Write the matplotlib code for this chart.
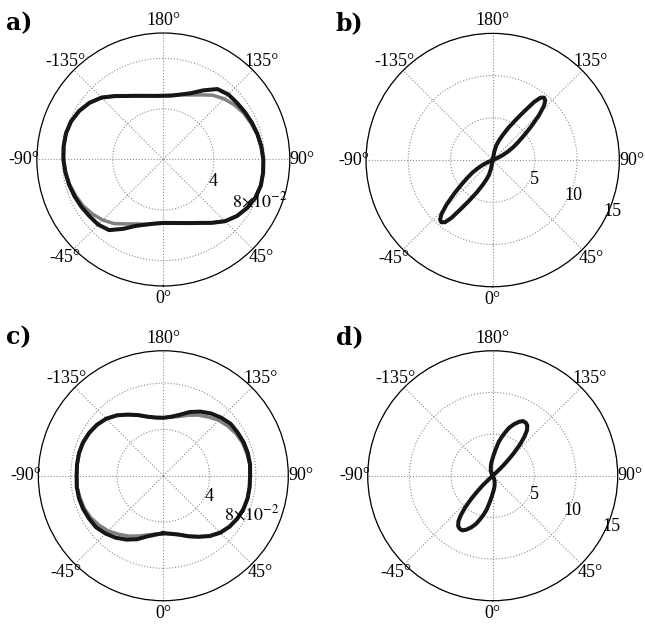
import numpy as np
import matplotlib
matplotlib.use("Agg")
import matplotlib.pyplot as plt
from matplotlib.transforms import ScaledTranslation

plt.rcParams['font.family'] = ['Liberation Serif', 'DejaVu Serif']
plt.rcParams['mathtext.fontset'] = 'stix'

# ---- angular axis ----
theta_ticks = [0, 45, 90, 135, 180, 225, 270, 315]
theta_labels = ['0°', '45°', '90°', '135°', '180°', '-135°', '-90°', '-45°']

# ---- panels a) and c): sampled every 7.5 degrees ----
angles_ac = [0, 7.5, 15, 22.5, 30, 37.5, 45, 52.5, 60, 67.5, 75, 82.5,
             90, 97.5, 105, 112.5, 120, 127.5, 135, 142.5, 150, 157.5, 165, 172.5,
             180, 187.5, 195, 202.5, 210, 217.5, 225, 232.5, 240, 247.5, 255, 262.5,
             270, 277.5, 285, 292.5, 300, 307.5, 315, 322.5, 330, 337.5, 345, 352.5]

a_black = [0.0502, 0.0506, 0.0520, 0.0544, 0.0579, 0.0631, 0.0690, 0.0734,
           0.0766, 0.0788, 0.0798, 0.0796, 0.0791, 0.0782, 0.0771, 0.0759,
           0.0746, 0.0735, 0.0727, 0.0702, 0.0631, 0.0567, 0.0532, 0.0510,
           0.0504, 0.0507, 0.0521, 0.0545, 0.0580, 0.0632, 0.0692, 0.0736,
           0.0768, 0.0789, 0.0797, 0.0795, 0.0790, 0.0781, 0.0771, 0.0760,
           0.0748, 0.0736, 0.0728, 0.0704, 0.0633, 0.0568, 0.0533, 0.0511]

a_gray = [0.0502, 0.0506, 0.0520, 0.0544, 0.0579, 0.0631, 0.0690, 0.0734,
          0.0766, 0.0788, 0.0798, 0.0796, 0.0791, 0.0780, 0.0768, 0.0750,
          0.0734, 0.0709, 0.0679, 0.0641, 0.0590, 0.0552, 0.0530, 0.0510,
          0.0504, 0.0507, 0.0521, 0.0545, 0.0580, 0.0632, 0.0692, 0.0736,
          0.0768, 0.0789, 0.0797, 0.0795, 0.0790, 0.0779, 0.0767, 0.0749,
          0.0733, 0.0707, 0.0677, 0.0639, 0.0588, 0.0551, 0.0530, 0.0511]

c_black = [0.0497, 0.0506, 0.0527, 0.0566, 0.0609, 0.0657, 0.0696, 0.0722,
           0.0739, 0.0750, 0.0754, 0.0752, 0.0750, 0.0756, 0.0756, 0.0752,
           0.0743, 0.0735, 0.0709, 0.0678, 0.0640, 0.0596, 0.0545, 0.0514,
           0.0501, 0.0507, 0.0528, 0.0567, 0.0610, 0.0658, 0.0697, 0.0723,
           0.0740, 0.0751, 0.0754, 0.0752, 0.0749, 0.0754, 0.0754, 0.0750,
           0.0741, 0.0732, 0.0706, 0.0675, 0.0637, 0.0594, 0.0543, 0.0513]

c_gray = [0.0497, 0.0506, 0.0527, 0.0566, 0.0609, 0.0657, 0.0696, 0.0722,
          0.0739, 0.0750, 0.0754, 0.0752, 0.0750, 0.0754, 0.0747, 0.0741,
          0.0726, 0.0704, 0.0677, 0.0640, 0.0605, 0.0566, 0.0530, 0.0510,
          0.0501, 0.0507, 0.0528, 0.0567, 0.0610, 0.0658, 0.0697, 0.0723,
          0.0740, 0.0751, 0.0754, 0.0752, 0.0749, 0.0752, 0.0745, 0.0739,
          0.0724, 0.0701, 0.0674, 0.0637, 0.0602, 0.0564, 0.0529, 0.0509]

# ---- panel b): two lobes ----
b_angles = [110, 113, 116, 119, 122, 125, 128, 131, 134, 136.5, 138.5, 140.5,
            142.5, 144.5, 147, 150, 154, 158, 162, 166, 169, 172,
            290, 293, 296, 299, 302, 305, 308, 311, 314, 316.5, 318.5, 320.5,
            322.5, 324.5, 327, 330, 334, 338, 342, 346, 349, 352]
b_r = [0.0, 0.55, 1.30, 2.05, 2.85, 3.65, 4.65, 6.00, 7.60, 8.80, 9.40, 9.58,
       9.30, 8.45, 6.90, 5.55, 4.25, 3.20, 2.45, 1.80, 1.05, 0.0,
       0.0, 0.55, 1.30, 2.05, 2.85, 3.65, 4.65, 6.00, 7.60, 8.80, 9.40, 9.55,
       9.28, 8.42, 6.88, 5.52, 4.22, 3.18, 2.45, 1.80, 1.05, 0.0]

# ---- panel d): two lobes ----
d_angles = [132, 133, 134, 135.5, 137, 139, 141, 143, 145.5, 148, 151, 154,
            157.5, 161, 164, 167, 170, 174, 178, 182, 186, 190, 195, 200, 205, 210,
            312, 313, 314, 315.5, 317, 319, 321, 323, 325.5, 328, 331, 334,
            337.5, 341, 344, 347, 350, 354, 358, 362, 366, 370, 375, 380, 385, 390]
d_r = [0.0, 0.72, 1.68, 2.64, 3.72, 5.04, 6.06, 6.84, 7.32, 7.50, 7.50, 7.20,
       6.70, 6.10, 5.40, 4.75, 4.10, 3.10, 2.40, 1.90, 1.56, 1.26, 0.90, 0.66, 0.36, 0.0,
       0.0, 0.72, 1.68, 2.64, 3.72, 5.04, 6.06, 6.84, 7.32, 7.50, 7.50, 7.20,
       6.70, 6.10, 5.40, 4.75, 4.10, 3.10, 2.40, 1.90, 1.56, 1.26, 0.90, 0.66, 0.36, 0.0]

rticks_ac = [0.04, 0.08]
rlabels_ac = ['4', r'$8{\times}10^{-2}$']
rticks_bd = [5, 10, 15]
rlabels_bd = ['5', '10', '15']

BLACK = '#161616'
GRAY = '#808080'

fig = plt.figure(figsize=(6.45, 6.24), dpi=100)


def closed(angles_deg, radii):
    th = np.deg2rad(np.append(angles_deg, angles_deg[0] + 360.0))
    rr = np.append(radii, radii[0])
    return th, rr


def make_polar(rect, rmax, rticks, rlabels):
    ax = fig.add_axes(rect, projection='polar')
    ax.set_theta_zero_location('S')
    ax.set_theta_direction(1)
    ax.set_xticks(np.deg2rad(theta_ticks))
    ax.set_xticklabels(theta_labels, fontsize=13)
    ax.tick_params(axis='x', pad=-1.5)
    ax.set_ylim(0, rmax)
    ax.set_yticks(rticks)
    ax.set_yticklabels([])
    ax.grid(True, linestyle=':', color='0.55', linewidth=0.8)
    ax.spines['polar'].set_linewidth(0.9)
    ax.spines['polar'].set_color('black')
    shift = ScaledTranslation(3 / 100, -3 / 100, fig.dpi_scale_trans)
    for r, lab in zip(rticks, rlabels):
        ax.text(np.deg2rad(67.5), r, lab, ha='center', va='center',
                fontsize=13, transform=ax.transData + shift, zorder=5)
    return ax


ax_a = make_polar([0.0571, 0.5417, 0.3922, 0.4054], 0.1, rticks_ac, rlabels_ac)
ax_b = make_polar([0.5674, 0.5405, 0.3929, 0.4060], 15, rticks_bd, rlabels_bd)
ax_c = make_polar([0.0594, 0.0373, 0.3876, 0.4006], 0.108, rticks_ac, rlabels_ac)
ax_d = make_polar([0.5701, 0.0373, 0.3876, 0.4006], 15, rticks_bd, rlabels_bd)

ax_a.plot(*closed(angles_ac, a_gray), color=GRAY, lw=2.5, solid_joinstyle='round')
ax_a.plot(*closed(angles_ac, a_black), color=BLACK, lw=2.9, solid_joinstyle='round')
ax_c.plot(*closed(angles_ac, c_gray), color=GRAY, lw=2.5, solid_joinstyle='round')
ax_c.plot(*closed(angles_ac, c_black), color=BLACK, lw=2.9, solid_joinstyle='round')
ax_b.plot(*closed(b_angles, b_r), color=BLACK, lw=2.9, solid_joinstyle='round')
ax_d.plot(*closed(d_angles, d_r), color=BLACK, lw=2.9, solid_joinstyle='round')

for label, x, y in [('a)', 6 / 645, 1 - 30 / 624), ('b)', 336 / 645, 1 - 30 / 624),
                    ('c)', 6 / 645, 1 - 344 / 624), ('d)', 336 / 645, 1 - 344 / 624)]:
    fig.text(x, y, label, fontsize=17, fontweight='bold', ha='left', va='baseline',
             family=['DejaVu Serif'])

fig.savefig('out.png', dpi=100)
